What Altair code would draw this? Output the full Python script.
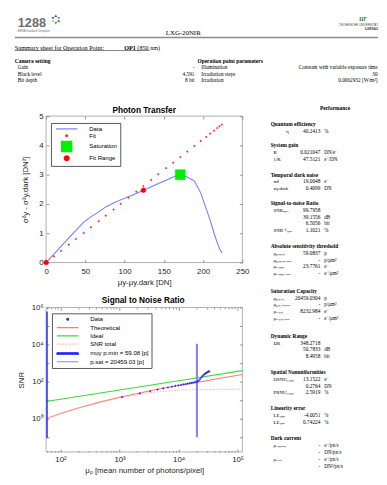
import math
import altair as alt
import pandas as pd

SANS = "Liberation Sans"
SERIF = "Liberation Serif"
W, H = 379, 468
OX, OY = 8, 8


def cx(v):
    return v - OX


def cy(v):
    return v - OY


# ---------------- data: photon transfer ----------------
pt_mean = [0, 10, 19, 29, 38, 48, 57, 67, 76, 86, 95, 105, 115, 124, 134,
           143, 153, 162, 171, 180, 189, 197, 204, 209, 214, 218, 221, 224]
pt_var = [0, 0.29, 0.55, 0.84, 1.10, 1.38, 1.56, 1.73, 1.90, 2.03, 2.14, 2.25,
          2.36, 2.47, 2.59, 2.70, 2.81, 2.92, 3.00, 2.92, 2.78, 2.38, 1.83,
          1.45, 1.00, 0.68, 0.48, 0.33]
pt_fit = [0, 0.21, 0.40, 0.61, 0.80, 1.01, 1.20, 1.41, 1.60, 1.81, 2.00, 2.21,
          2.42, 2.61, 2.82, 3.01, 3.22, 3.41, 3.60, 3.79, 3.98, 4.15, 4.29,
          4.40, 4.50, 4.59, 4.65, 4.71]
sat_mean = [171]
sat_var = [3.0]
fr_mean = [0, 124]
fr_var = [0, 2.47]
pt_series = ["Data", "Fit", "Saturation", "Fit Range"]
pt_ticks_x = [0, 50, 100, 150, 200, 250]
pt_ticks_y = [0, 1, 2, 3, 4, 5]

# ---------------- data: SNR ----------------
snr_mu = [1100, 2200, 3300, 4400, 5500, 6600, 7700, 8800, 9900, 11000,
          12100, 13200, 14300, 15400, 16500, 17600, 18700, 19800, 20900, 22000,
          23100, 24200, 25300, 26400, 27500, 28600, 29700, 30800, 31900, 33000]
snr_data = [14.5, 23, 30, 37, 43, 48, 53, 58, 62, 66, 70, 74, 78, 81, 85, 89,
            92, 96, 99.8, 112, 135, 165, 195, 225, 250, 275, 300, 320, 340, 360]
theo_mu = [57, 100, 200, 500, 1000, 2000, 5000, 10000, 20000, 50000, 120000]
theo_snr = [1.0, 1.9, 3.8, 8.3, 14.3, 23, 42, 62, 90, 150, 240]
ideal_mu = [57, 1000, 10000, 120000]
ideal_snr = [8.5, 35.6, 112, 390]
total_mu = [57, 200, 500, 1000, 2000, 3000, 5000, 10000, 20000, 50000, 120000]
total_snr = [1.0, 3.8, 8.0, 13, 19.5, 24, 29, 34, 36.5, 38, 38.5]
pmin_mu = [59.08]
pmin_span = [0.09, 600000]
psat_mu = [20459.03]
psat_span = [0.1, 11000]
snr_series = ["Data", "Theoretical", "Ideal", "SNR total",
              "muy p.min = 59.08 [p]", "p.sat = 20459.03 [p]"]
snr_ticks_x = [100, 1000, 10000, 100000]
snr_minor_x = [60, 70, 80, 90, 200, 300, 400, 500, 600, 700, 800, 900,
               2000, 3000, 4000, 5000, 6000, 7000, 8000, 9000,
               20000, 30000, 40000, 50000, 60000, 70000, 80000, 90000]
snr_ticks_y = [0.1, 1, 10, 100, 1000, 10000, 100000, 1000000]

# ---------------- page texts ----------------
logo_text = "1288"
logo_sub = "EMVA Standard Compliant"
doc_title = "LXG-20NIR"
uni_lines = ["TECHNISCHE UNIVERSITÄT", "ILMENAU"]
summary_parts = ["Summary sheet for Operation Point: ", "OP1", "(850 nm)"]
cam_title = "Camera setting"
cam_labels = ["Gain", "Black level", "Bit depth"]
cam_values = ["-", "4.591", "8 bit"]
op_title = "Operation point parameters"
op_labels = ["Illumination", "Irradiation steps", "Irradiation"]
op_values = ["Constant with variable exposure time", "30", "0.0062932 [W/m²]"]
perf_title = "Performance"
perf_blocks = [
    ("Quantum efficiency", [("η", "40.2413", "%")]),
    ("System gain", [("K", "0.021047", "DN/e⁻"), ("1/K", "47.5121", "e⁻/DN")]),
    ("Temporal dark noise", [("σd", "19.0048", "e⁻"), ("σy.dark", "0.4099", "DN")]),
    ("Signal-to-noise Ratio", [("SNRₘₐₓ", "99.7958", ""), ("", "39.1556", "dB"),
                               ("", "6.5056", "bit"), ("SNR⁻¹ₘₐₓ", "1.1021", "%")]),
    ("Absolute sensitivity threshold", [("μₚ.ₘᵢₙ", "59.0837", "p"), ("μₚ.ₘᵢₙ.ₐᵣₑₐ", "-", "p/μm²"),
                                        ("μₑ.ₘᵢₙ", "23.7761", "e⁻"), ("μₑ.ₘᵢₙ.ₐᵣₑₐ", "-", "e⁻/μm²")]),
    ("Saturation Capacity", [("μₚ.ₛₐₜ", "20459.0304", "p"), ("μₚ.ₛₐₜ.ₐᵣₑₐ", "-", "p/μm²"),
                             ("μₑ.ₛₐₜ", "8232.984", "e⁻"), ("μₑ.ₛₐₜ.ₐᵣₑₐ", "-", "e⁻/μm²")]),
    ("Dynamic Range", [("DR", "348.2718", ""), ("", "50.7833", "dB"), ("", "8.4958", "bit")]),
    ("Spatial Nonuniformities", [("DSNU₁₂₈₈", "13.1522", "e⁻"), ("", "0.2764", "DN"),
                                 ("PRNU₁₂₈₈", "2.5919", "%")]),
    ("Linearity error", [("LEₘᵢₙ", "-4.0051", "%"), ("LEₘₐₓ", "0.74224", "%")]),
    ("Dark current", [("μᵢ.ₘₑₐₙ", "-", "e⁻/px/s"), ("", "-", "DN/px/s"),
                      ("μᵢ.ᵥₐᵣ", "-", "e⁻/px/s"), ("", "-", "DN²/px/s")]),
]

# ---------------- helpers ----------------
ONE = pd.DataFrame({"k": [0]})
SYM = 16                      # symbol size (area); path unit = sqrt(SYM)/2 px
U = math.sqrt(SYM) / 2


def texts(rows, **kw):
    style = dict(baseline="middle", align="left", font=SERIF, fontSize=5.2, color="#000000")
    style.update(kw)
    df = pd.DataFrame([r for r in rows if r[0]], columns=["t", "px", "py"])
    return alt.Chart(df).mark_text(**style).encode(
        x=alt.X("px:Q", scale=None, axis=None),
        y=alt.Y("py:Q", scale=None, axis=None),
        text=alt.Text("t:N"),
    )


def hline(x0, x1, y, color, width):
    return alt.Chart(ONE).mark_rule(color=color, strokeWidth=width).encode(
        x=alt.value(x0), x2=alt.value(x1), y=alt.value(y))


def frame(x0, x1, y0, y1):
    return alt.Chart(ONE).mark_rect(fillOpacity=0, stroke="#8c8c8c", strokeWidth=0.7).encode(
        x=alt.value(x0), x2=alt.value(x1), y=alt.value(y0), y2=alt.value(y1))


def axis(orient, offset, values, labels=True, tick=3.0, **kw):
    d = dict(orient=orient, offset=offset, values=values, tickSize=tick,
             tickColor="#4d4d4d", tickWidth=0.6, domain=False, grid=False,
             labels=labels, ticks=True)
    if labels:
        d.update(labelFont=SANS, labelFontSize=8, labelColor="#262626",
                 labelFlush=False, labelOverlap=False,
                 titleFont=SANS, titleFontSize=8, titleFontWeight="normal",
                 titleColor="#262626")
    else:
        d.update(title=None)
    d.update(kw)
    return alt.Axis(**d)


def legend(x, y, row_pad):
    return alt.Legend(title=None, orient="none", legendX=x, legendY=y,
                      fillColor="white", strokeColor="#555555", padding=3,
                      cornerRadius=0, labelFont=SANS, labelFontSize=6.2,
                      labelColor="#000000", rowPadding=row_pad, symbolSize=SYM,
                      symbolStrokeWidth=1.2, symbolOffset=10, labelOffset=20)


def dot(rpx):
    r = round(rpx / U, 3)
    return f"M{-r},0A{r},{r},0,1,0,{r},0A{r},{r},0,1,0,{-r},0Z"


def square(hpx):
    h = round(hpx / U, 3)
    return f"M{-h},{-h}H{h}V{h}H{-h}Z"


def hbar(half_len_px, half_th_px):
    a = round(half_len_px / U, 3)
    b = round(half_th_px / U, 3)
    if b == 0:
        return f"M{-a},0L{a},0"
    return f"M{-a},{-b}H{a}V{b}H{-a}Z"


LINE = hbar(11, 0)
THICK = hbar(11, 0.75)

# plot areas (reference pixels -> chart pixels)
PT_X0, PT_X1, PT_Y0, PT_Y1 = cx(47), cx(248), cy(113), cy(263)
SN_X0, SN_X1, SN_Y0, SN_Y1 = cx(47), cx(248), cy(309), cy(457)

# ---------------- photon transfer ----------------
pt_xs = alt.Scale(domain=[0, 250], range=[PT_X0, PT_X1], nice=False, zero=False)
pt_ys = alt.Scale(domain=[0, 5], range=[PT_Y1, PT_Y0], nice=False, zero=False)
pt_colors = ["#7b7bff", "#ff2020", "#00ee00", "#ff0000"]
pt_shapes = [LINE, dot(0.9), square(5.2), dot(2.5)]
pt_leg = legend(cx(52), cy(120), -1)

pt_line = alt.Chart(pd.DataFrame({"m": pt_mean, "v": pt_var})).mark_line(
    color="#7b7bff", strokeWidth=1.1).encode(
    x=alt.X("m:Q", scale=pt_xs,
            axis=axis("bottom", PT_Y1 - 3 - H, pt_ticks_x, labelPadding=5,
                      title="μy-μy.dark [DN]", titlePadding=3)),
    y=alt.Y("v:Q", scale=pt_ys,
            axis=axis("left", -(PT_X0 + 3), pt_ticks_y, labelPadding=3,
                      title="σ²y - σ²y.dark [DN²]", titlePadding=10)),
)

pt_pts_df = pd.concat([
    pd.DataFrame({"m": pt_mean, "v": pt_fit, "s": "Fit"}),
    pd.DataFrame({"m": sat_mean, "v": sat_var, "s": "Saturation"}),
    pd.DataFrame({"m": fr_mean, "v": fr_var, "s": "Fit Range"}),
], ignore_index=True)

pt_pts = alt.Chart(pt_pts_df).mark_point(filled=True, size=SYM, opacity=1, strokeWidth=0.3).encode(
    x=alt.X("m:Q", scale=pt_xs, axis=axis("top", -(PT_Y0 + 3), pt_ticks_x, labels=False)),
    y=alt.Y("v:Q", scale=pt_ys, axis=axis("right", PT_X1 - 3 - W, pt_ticks_y, labels=False)),
    fill=alt.Fill("s:N", scale=alt.Scale(domain=pt_series, range=pt_colors), legend=pt_leg),
    stroke=alt.Stroke("s:N", scale=alt.Scale(domain=pt_series, range=pt_colors), legend=pt_leg),
    shape=alt.Shape("s:N", scale=alt.Scale(domain=pt_series, range=pt_shapes), legend=pt_leg),
)

pt_chart = alt.layer(pt_line, pt_pts).resolve_axis(x="independent", y="independent")

# ---------------- SNR ----------------
snr_xs = alt.Scale(type="log", domain=[57, 120000], range=[SN_X0, SN_X1], nice=False)
snr_ys = alt.Scale(type="log", domain=[0.016, 1000000], range=[SN_Y1, SN_Y0], nice=False)
SUP = "['⁰','¹','²','³','⁴','⁵','⁶','⁷']"
x_lab = f"'10' + {SUP}[round(log(datum.value)/LN10)]"
y_lab = (f"(datum.value >= 1 && round(log(datum.value)/LN10) % 2 == 0) ? "
         f"'10' + {SUP}[round(log(datum.value)/LN10)] : ''")
snr_colors = ["#2525ff", "#ff7a7a", "#3ada3a", "#ffb0b0", "#2020ff", "#8585ff"]
snr_shapes = [dot(0.9), LINE, LINE, LINE, THICK, LINE]
snr_dashes = [[1, 0], [1, 0], [1, 0], [1.5, 1.5], [1, 0], [1, 0]]
snr_leg = legend(cx(53), cy(315), 1.5)

theo = alt.Chart(pd.DataFrame({"m": theo_mu, "v": theo_snr})).mark_line(
    color="#ff7a7a", strokeWidth=1.1).encode(
    x=alt.X("m:Q", scale=snr_xs,
            axis=axis("bottom", SN_Y1 - 3 - H, snr_ticks_x, labelPadding=4,
                      labelExpr=x_lab, title="μₚ [mean number of photons/pixel]",
                      titlePadding=3)),
    y=alt.Y("v:Q", scale=snr_ys,
            axis=axis("left", -(SN_X0 + 3), snr_ticks_y, labelPadding=3,
                      labelExpr=y_lab, title="SNR", titlePadding=6)),
)
ideal = alt.Chart(pd.DataFrame({"m": ideal_mu, "v": ideal_snr})).mark_line(
    color="#3ada3a", strokeWidth=1.1).encode(
    x=alt.X("m:Q", scale=snr_xs, axis=axis("top", -(SN_Y0 + 3), snr_ticks_x, labels=False)),
    y=alt.Y("v:Q", scale=snr_ys, axis=axis("right", SN_X1 - 3 - W, snr_ticks_y, labels=False)),
)
total = alt.Chart(pd.DataFrame({"m": total_mu, "v": total_snr})).mark_line(
    color="#ffb0b0", strokeWidth=1, strokeDash=[1.5, 1.5]).encode(
    x=alt.X("m:Q", scale=snr_xs,
            axis=axis("bottom", SN_Y1 - 1.5 - H, snr_minor_x, labels=False, tick=1.5)),
    y=alt.Y("v:Q", scale=snr_ys, axis=None),
)
pmin_rule = alt.Chart(pd.DataFrame({"m": pmin_mu, "lo": [pmin_span[0]], "hi": [pmin_span[1]]})).mark_rule(
    color="#3030ff", strokeWidth=1.6).encode(
    x=alt.X("m:Q", scale=snr_xs,
            axis=axis("top", -(SN_Y0 + 1.5), snr_minor_x, labels=False, tick=1.5)),
    y=alt.Y("lo:Q", scale=snr_ys, axis=None),
    y2="hi:Q",
)
psat_rule = alt.Chart(pd.DataFrame({"m": psat_mu, "lo": [psat_span[0]], "hi": [psat_span[1]]})).mark_rule(
    color="#8585ff", strokeWidth=2.2).encode(
    x=alt.X("m:Q", scale=snr_xs, axis=None),
    y=alt.Y("lo:Q", scale=snr_ys, axis=None),
    y2="hi:Q",
)
snr_pts = alt.Chart(pd.DataFrame({"m": snr_mu, "v": snr_data, "s": ["Data"] * len(snr_mu)})).mark_point(
    filled=True, size=SYM, opacity=1, strokeWidth=0.3).encode(
    x=alt.X("m:Q", scale=snr_xs, axis=None),
    y=alt.Y("v:Q", scale=snr_ys, axis=None),
    fill=alt.Fill("s:N", scale=alt.Scale(domain=snr_series, range=snr_colors), legend=snr_leg),
    stroke=alt.Stroke("s:N", scale=alt.Scale(domain=snr_series, range=snr_colors), legend=snr_leg),
    shape=alt.Shape("s:N", scale=alt.Scale(domain=snr_series, range=snr_shapes), legend=snr_leg),
    strokeDash=alt.StrokeDash("s:N", scale=alt.Scale(domain=snr_series, range=snr_dashes), legend=snr_leg),
)
snr_chart = alt.layer(theo, ideal, total, pmin_rule, psat_rule, snr_pts).resolve_axis(
    x="independent", y="independent")

# ---------------- header ----------------
layers = []
layers.append(texts([(logo_text, cx(18), cy(18))], font=SANS, fontSize=13, fontWeight="bold", color="#6e6e6e"))
layers.append(texts([(logo_sub, cx(18), cy(25.5))], font=SANS, fontSize=2.8, color="#6e6e6e"))
star_colors = ["#1d5fbf", "#2aa7e0", "#e63329", "#3bb54a", "#f5c016", "#7a3fb0"]
star_px, star_py, star_a = [], [], []
for i in range(6):
    ang = i * 60
    star_px.append(cx(57) + 3.8 * math.sin(math.radians(ang)))
    star_py.append(cy(14) - 3.8 * math.cos(math.radians(ang)))
    star_a.append(ang)
layers.append(alt.Chart(pd.DataFrame({"px": star_px, "py": star_py, "c": star_colors, "a": star_a}))
              .mark_point(shape="triangle-up", filled=True, size=9, opacity=1)
              .encode(x=alt.X("px:Q", scale=None, axis=None), y=alt.Y("py:Q", scale=None, axis=None),
                      color=alt.Color("c:N", scale=None), angle=alt.Angle("a:Q", scale=None)))
layers.append(texts([(doc_title, cx(187.5), cy(27.5))], align="center", fontSize=7))
layers.append(texts([("ur", cx(371.5), cy(13.5))], align="center", fontSize=8, fontStyle="italic",
                    fontWeight="bold", color="#3b8a4f"))
layers.append(texts([(uni_lines[0], W, cy(20))], align="right", font=SANS, fontSize=3, color="#444444"))
layers.append(texts([(uni_lines[1], W, cy(23.5))], align="right", font=SANS, fontSize=3,
                    fontWeight="bold", color="#444444"))
layers.append(hline(cx(15), W, cy(32.5), "#8c8c8c", 1.5))
layers.append(texts([(summary_parts[0], cx(15), cy(43))], fontSize=6.3))
layers.append(texts([(summary_parts[1], cx(127), cy(43))], fontSize=6.3, fontWeight="bold"))
layers.append(texts([(summary_parts[2], cx(140.5), cy(43))], fontSize=6.3))
layers.append(hline(cx(15), cx(153), cy(45.8), "#000000", 0.5))

row_y = [cy(63), cy(69.5), cy(76)]
layers.append(texts([(cam_title, cx(15), cy(57)), (op_title, cx(202), cy(57))], fontSize=5.6, fontWeight="bold"))
layers.append(texts([(t, cx(18), y) for t, y in zip(cam_labels, row_y)]
                    + [(t, cx(206), y) for t, y in zip(op_labels, row_y)], fontSize=5.4))
layers.append(texts([(t, cx(199), y) for t, y in zip(cam_values, row_y)]
                    + [(t, W - 0.5, y) for t, y in zip(op_values, row_y)], fontSize=5.4, align="right"))

# plot frames and titles
layers.append(frame(PT_X0, PT_X1, PT_Y0, PT_Y1))
layers.append(frame(SN_X0, SN_X1, SN_Y0, SN_Y1))
layers.append(texts([("Photon Transfer", cx(147.5), cy(106.5)),
                     ("Signal to Noise Ratio", cx(146.5), cy(301.5))],
                    font=SANS, fontSize=8.5, fontWeight="bold", align="center"))

# ---------------- performance column ----------------
section_y = [121, 143, 173, 202, 246, 292, 338, 375, 412, 443]
ROW = 7
heads, labs, vals, units = [], [], [], []
for (head, rows), y0 in zip(perf_blocks, section_y):
    heads.append((head, cx(277), cy(y0)))
    for i, (lab, val, unit) in enumerate(rows):
        y = cy(y0 + ROW * (i + 1))
        labs.append((lab, cx(293) if lab == "η" else cx(280), y))
        vals.append((val, cx(328), y))
        units.append((unit, cx(332), y))
layers.append(texts([(perf_title, cx(343), cy(105))], fontSize=5.6, fontWeight="bold", align="center"))
layers.append(texts(heads, fontSize=5.5, fontWeight="bold"))
layers.append(texts(labs, fontSize=5.0))
layers.append(texts(vals, fontSize=5.5, align="right"))
layers.append(texts(units, fontSize=5.2))

page = alt.layer(*layers, pt_chart, snr_chart).resolve_scale(
    x="independent", y="independent", fill="independent", stroke="independent",
    shape="independent", strokeDash="independent", color="independent", angle="independent",
).properties(width=W, height=H, padding=0).configure_view(stroke="transparent")

page.save("out.html", embed_options={"renderer": "svg", "actions": False})
